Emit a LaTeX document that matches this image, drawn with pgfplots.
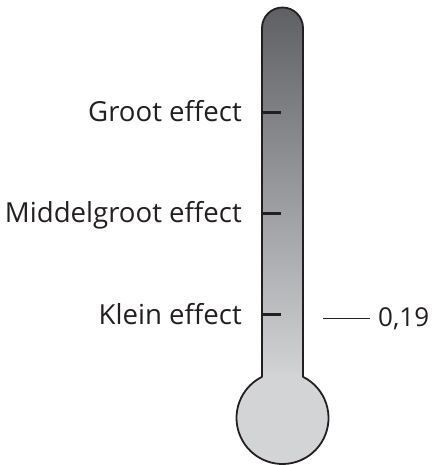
\documentclass[border=0pt]{standalone}
\usepackage{pgfplots}
\pgfplotsset{compat=1.18}
\usepackage{fontspec}
\setmainfont{Open Sans}
\definecolor{tubetop}{HTML}{5E6064}
\definecolor{tubebot}{HTML}{D2D3D5}
\definecolor{bulb}{HTML}{D3D4D6}
\definecolor{ink}{HTML}{231F20}
\begin{document}
\begin{tikzpicture}
\useasboundingbox (0,0) rectangle (433pt,465pt);
\begin{axis}[
  scale only axis, width=433pt, height=465pt,
  xmin=0, xmax=433, ymin=-0.24554, ymax=1.13564,
  hide axis, clip=false,
]
% thermometer body
\shade[top color=tubetop, bottom color=tubebot]
  (262,0.0164) -- (262,1.0525) arc[start angle=180,end angle=0,radius=20.5pt] -- (303,0.0164) -- cycle;
\fill[bulb] (282.5,-0.1059) circle[radius=46pt];
\fill[bulb] (262.5,0.0164) rectangle (302.5,0.03);
\draw[ink, line width=1.8pt, line join=round]
  (262,0.0164) -- (262,1.0525) arc[start angle=180,end angle=0,radius=20.5pt]
  -- (303,0.0164) arc[start angle=63.55,end angle=-243.55,radius=46pt] -- cycle;
% scale ticks
\addplot[ink, line width=3pt, forget plot] coordinates {(262,0.8) (281,0.8)};
\addplot[ink, line width=3pt, forget plot] coordinates {(262,0.5) (281,0.5)};
\addplot[ink, line width=3pt, forget plot] coordinates {(262,0.2) (281,0.2)};
% value marker
\addplot[ink, line width=1pt, forget plot] coordinates {(323,0.19) (370,0.19)};
\node[anchor=base east, inner sep=0pt, font=\fontsize{27.6}{32}\selectfont, text=ink] at (242,0.8) [yshift=-9pt] {Groot effect};
\node[anchor=base east, inner sep=0pt, font=\fontsize{27.6}{32}\selectfont, text=ink] at (242,0.5) [yshift=-8.5pt] {Middelgroot effect};
\node[anchor=base east, inner sep=0pt, font=\fontsize{27.6}{32}\selectfont, text=ink] at (242,0.2) [yshift=-9.3pt] {Klein effect};
\node[anchor=base west, inner sep=0pt, font=\fontsize{26}{30}\selectfont, text=ink] at (378,0.19) [yshift=-8.3pt] {0,19};
\end{axis}
\end{tikzpicture}
\end{document}
